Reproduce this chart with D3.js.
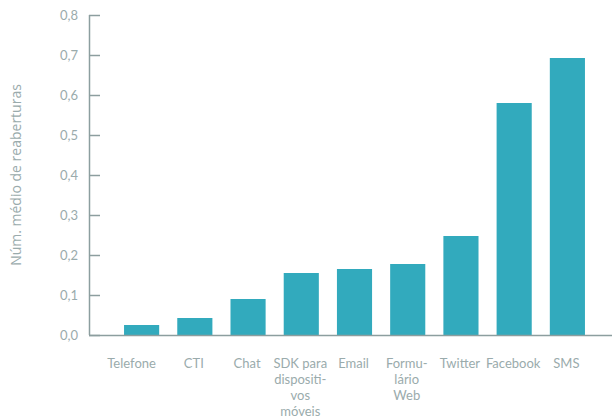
<!DOCTYPE html>
<html><head><meta charset="utf-8">
<script src="https://cdn.jsdelivr.net/npm/d3@7"></script>
<style>body{margin:0;background:#fff;} text{font-family:Lato,"Open Sans",sans-serif;}</style>
</head><body>
<svg id="chart" width="614" height="420"></svg>
<script>
const categories = [["Telefone"],["CTI"],["Chat"],["SDK para","dispositi-","vos","móveis"],["Email"],["Formu-","lário","Web"],["Twitter"],["Facebook"],["SMS"]];
const values = [0.025,0.0425,0.09,0.155,0.165,0.1775,0.2475,0.58,0.6925];
const yTicks = [0,0.1,0.2,0.3,0.4,0.5,0.6,0.7,0.8];
const yTitle = "Núm. médio de reaberturas";

const svg = d3.select("#chart");
const textColor = "#9aabac", axisColor = "#8c9e9f", barColor = "#32aabd";
const x0 = 89, y0 = 335, yTop = 15;
const keys = categories.map((d,i)=>i);
const x = d3.scaleBand().domain(keys).range([115,594]).paddingInner(0.34).paddingOuter(0.17);
const y = d3.scaleLinear().domain([0,0.8]).range([y0,yTop]);

// bars
svg.selectAll("rect.bar").data(values).join("rect")
  .attr("class","bar")
  .attr("x",(d,i)=>x(i)).attr("width",x.bandwidth())
  .attr("y",d=>y(d)).attr("height",d=>y0-y(d))
  .attr("fill",barColor);

// y axis
const yAxis = d3.axisRight(y).tickValues(yTicks).tickSize(11).tickFormat(d=>d3.format(".1f")(d).replace(".",","));
const gy = svg.append("g").attr("transform",`translate(${x0},0)`).call(yAxis);
gy.select(".domain").attr("stroke",axisColor).attr("stroke-width",1.5).attr("d",`M0.5,${yTop}V${y0}`);
gy.selectAll(".tick line").attr("stroke",axisColor).attr("stroke-width",1.5);
gy.selectAll(".tick text").attr("x",-11).attr("text-anchor","end").attr("fill",textColor).style("font-size","13px");

// x baseline
svg.append("line").attr("x1",x0).attr("x2",612).attr("y1",y0+0.5).attr("y2",y0+0.5)
  .attr("stroke",axisColor).attr("stroke-width",1.5);

// x labels (first label sits left of its bar centre, as in the source)
const lab = svg.selectAll("text.xl").data(categories).join("text")
  .attr("class","xl")
  .attr("text-anchor","middle").attr("fill",textColor).style("font-size","13px")
  .attr("transform",(d,i)=>`translate(${x(i)+x.bandwidth()/2-(i===0?10:1)},368)`);
lab.selectAll("tspan").data(d=>d).join("tspan")
  .attr("x",0).attr("y",(d,j)=>j*16).text(d=>d);

// y title
svg.append("text").attr("transform","translate(21,175) rotate(-90)")
  .attr("text-anchor","middle").attr("fill",textColor)
  .style("font-family","'Open Sans',sans-serif").style("font-size","14px").text(yTitle);
</script>
</body></html>
